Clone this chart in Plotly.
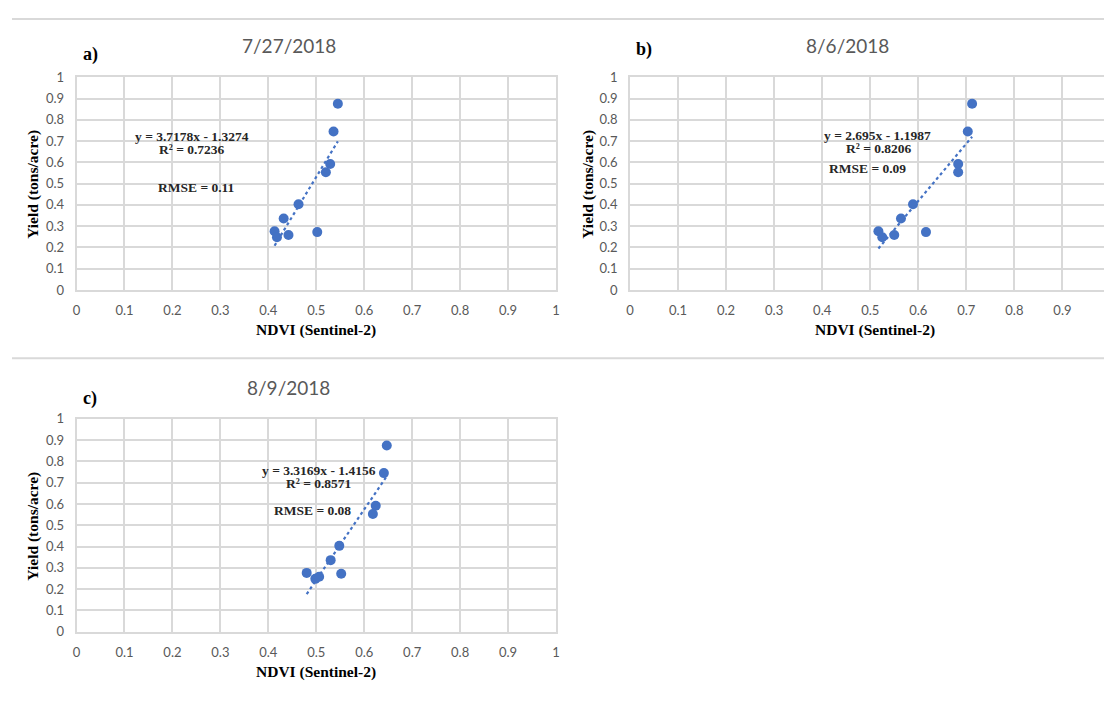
import plotly.graph_objects as go

# Page body has a default 8px margin: figure is sized/shifted so that
# page pixel coordinates map onto the 1112x702 window.
OFF = 8
W, H = 1112 - OFF, 702 - 2 * OFF

# ---- data ----
yield_vals = [0.875, 0.745, 0.592, 0.553, 0.403, 0.336, 0.276, 0.248, 0.258, 0.272]
ndvi_a = [0.545, 0.536, 0.529, 0.520, 0.463, 0.432, 0.413, 0.418, 0.442, 0.502]
ndvi_b = [0.712, 0.703, 0.683, 0.683, 0.589, 0.564, 0.517, 0.525, 0.550, 0.616]
ndvi_c = [0.647, 0.641, 0.624, 0.618, 0.548, 0.530, 0.480, 0.498, 0.506, 0.552]
dates = ["7/27/2018", "8/6/2018", "8/9/2018"]
panel_labels = ["a)", "b)", "c)"]
slopes = [3.7178, 2.695, 3.3169]
intercepts = [-1.3274, -1.1987, -1.4156]
r2_text = ["0.7236", "0.8206", "0.8571"]
rmse_text = ["0.11", "0.09", "0.08"]
x_ticks = [0, 0.1, 0.2, 0.3, 0.4, 0.5, 0.6, 0.7, 0.8, 0.9, 1]
y_ticks = [0, 0.1, 0.2, 0.3, 0.4, 0.5, 0.6, 0.7, 0.8, 0.9, 1]
ndvi_sets = [ndvi_a, ndvi_b, ndvi_c]

# ---- layout geometry (page pixels) ----
panels = [
    dict(l=73, r=556, t=70.7, b=288.5, xmax=1.0, title=(287, 38), lab=(87, 47),
         ytitle=(29, 180), xtitle=(314, 330), eq=(189, 131), r2=(189, 145), rm=(194, 184), mirror_y=True),
    dict(l=630.5, r=1112, t=70.7, b=288.5, xmax=(1112 - 630.5) / 484.0, title=(850, 38), lab=(645, 42),
         ytitle=(588, 180), xtitle=(877, 330), eq=(880, 130), r2=(881, 144), rm=(870, 164), mirror_y=False),
    dict(l=73, r=556, t=420.5, b=638.3, xmax=1.0, title=(287, 388), lab=(87, 400),
         ytitle=(29, 530), xtitle=(314, 680), eq=(317, 473), r2=(317, 487), rm=(311, 514), mirror_y=True),
]

def px(x):
    return (x - OFF) / W

def py(y):
    return 1 - (y - OFF) / H

BLUE = "#4472C4"
GRID = "#d9d9d9"
TICKC = "#595959"
SERIF = "Liberation Serif, Times New Roman, serif"

fig = go.Figure()
annotations = []
layout = {}

for i, p in enumerate(panels):
    n = "" if i == 0 else str(i + 1)
    xa, ya = "x" + n, "y" + n
    xs = ndvi_sets[i]
    x0, x1 = min(xs), max(xs)
    fig.add_trace(go.Scatter(x=[x0, x1], y=[slopes[i] * x0 + intercepts[i], slopes[i] * x1 + intercepts[i]],
                             mode="lines", xaxis=xa, yaxis=ya,
                             line=dict(color=BLUE, width=2.2, dash="dot"), showlegend=False))
    fig.add_trace(go.Scatter(x=xs, y=yield_vals, mode="markers", xaxis=xa, yaxis=ya,
                             marker=dict(color=BLUE, size=10), showlegend=False))
    layout["xaxis" + n] = dict(domain=[max(0, px(p["l"])), min(1, px(p["r"]))], anchor=ya, range=[0, p["xmax"]],
                               tickvals=x_ticks, ticktext=[f"{v:g}" for v in x_ticks],
                               showgrid=True, gridcolor=GRID, gridwidth=1.7,
                               showline=True, linecolor=GRID, linewidth=1.7, mirror=True,
                               zeroline=False, ticks="outside", ticklen=8, tickcolor="rgba(0,0,0,0)",
                               tickfont=dict(family="Lato", size=13, color=TICKC), fixedrange=True)
    layout["yaxis" + n] = dict(domain=[py(p["b"]), py(p["t"])], anchor=xa, range=[0, 1],
                               tickvals=y_ticks, ticktext=[f"{v:g}" for v in y_ticks],
                               showgrid=True, gridcolor=GRID, gridwidth=1.7,
                               showline=True, linecolor=GRID, linewidth=1.7, mirror=p["mirror_y"],
                               zeroline=False, ticks="outside", ticklen=8, tickcolor="rgba(0,0,0,0)",
                               tickfont=dict(family="Lato", size=13, color=TICKC), fixedrange=True)
    eq = f"y = {slopes[i]:g}x - {abs(intercepts[i]):g}"
    items = [
        (p["title"], dates[i], dict(family="Lato", size=19, color=TICKC), 0),
        (p["lab"], f"<b>{panel_labels[i]}</b>", dict(family=SERIF, size=18, color="black"), 0),
        (p["ytitle"], "<b>Yield (tons/acre)</b>", dict(family=SERIF, size=15.5, color="black"), -90),
        (p["xtitle"], "<b>NDVI (Sentinel-2)</b>", dict(family=SERIF, size=15.5, color="black"), 0),
        (p["eq"], f"<b>{eq}</b>", dict(family=SERIF, size=13.5, color="#262626"), 0),
        (p["r2"], f"<b>R² = {r2_text[i]}</b>", dict(family=SERIF, size=13.5, color="#262626"), 0),
        (p["rm"], f"<b>RMSE = {rmse_text[i]}</b>", dict(family=SERIF, size=13.5, color="#262626"), 0),
    ]
    for (ax_, ay_), txt, font, ang in items:
        annotations.append(dict(x=px(ax_), y=py(ay_), xref="paper", yref="paper", text=txt,
                                showarrow=False, font=font, textangle=ang,
                                xanchor="center", yanchor="middle"))

shapes = [
    dict(type="line", xref="paper", yref="paper", x0=px(8), x1=1, y0=py(11), y1=py(11),
         line=dict(color=GRID, width=2)),
    dict(type="line", xref="paper", yref="paper", x0=px(8), x1=1, y0=py(358.3), y1=py(358.3),
         line=dict(color=GRID, width=2)),
]

fig.update_layout(width=W, height=H, margin=dict(l=0, r=0, t=0, b=0),
                  paper_bgcolor="white", plot_bgcolor="white",
                  annotations=annotations, shapes=shapes, **layout)

fig.write_html("out.html", config={"displayModeBar": False})
